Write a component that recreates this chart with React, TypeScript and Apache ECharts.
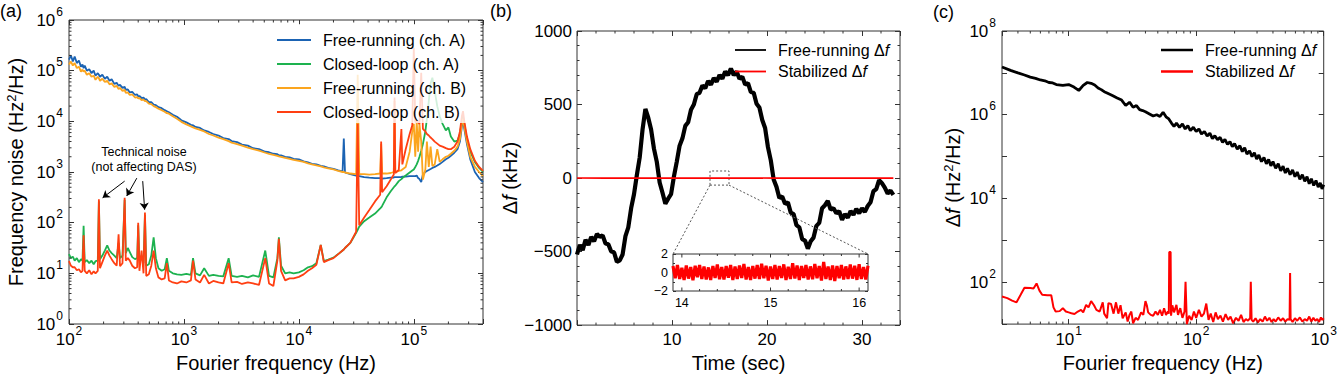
import { useEffect, useRef } from 'react';
import * as echarts from 'echarts';

const FONT = "'Liberation Sans', Arial, Helvetica, sans-serif";
const AX = '#333';

// ---------------- Panel (a): frequency noise PSD ----------------
const freqA = [100,104,108,112,117,122,127,131,134,137,143,150,157,164,170,178,182,186,195,205,215,225,235,248,260,270,278,292,305,312,325,338,355,375,392,400,410,428,445,458,470,495,520,545,570,600,640,680,710,740,800,870,950,1050,1150,1200,1260,1380,1500,1650,1800,2000,2200,2450,2600,2900,3200,3600,4000,4500,5100,5500,6000,6500,6700,7000,7600,8300,9000,10000,11000,12000,13000,14200,15500,16500,18000,20000,22000,24000,24600,25200,28000,31500,32500,33500,37000,41000,46000,51000,52000,53000,58000,63000,67000,68000,69000,74000,78000,79500,85000,92000,97000,100000,103000,106000,109000,112000,116000,120000,126000,130000,135000,140000,145000,152000,160000,168000,178000,190000,200000,210000,225000,240000,252000,262000,268000,275000,290000,310000,340000,370000,400000];
// values are log10 of the PSD (Hz^2/Hz)
const freeA_log10 = [5.22,5.30,5.18,5.28,5.15,5.20,5.08,5.12,5.05,5.10,5.00,5.03,4.95,5.00,4.90,4.95,4.92,4.88,4.92,4.84,4.88,4.80,4.83,4.74,4.76,4.70,4.72,4.66,4.68,4.62,4.63,4.57,4.58,4.52,4.53,4.49,4.50,4.46,4.47,4.43,4.44,4.38,4.38,4.33,4.32,4.28,4.26,4.22,4.20,4.18,4.13,4.09,4.02,3.98,3.93,3.92,3.89,3.87,3.82,3.79,3.75,3.72,3.67,3.65,3.61,3.59,3.54,3.52,3.47,3.45,3.40,3.39,3.36,3.35,3.33,3.33,3.30,3.29,3.26,3.25,3.21,3.19,3.16,3.15,3.12,3.11,3.08,3.06,3.03,3.01,3.66,2.99,2.96,2.93,2.92,2.92,2.90,2.89,2.88,2.88,2.88,2.87,2.88,2.89,2.89,2.90,2.90,2.90,2.90,2.91,2.91,2.92,2.92,2.92,2.92,2.93,2.88,2.86,2.80,2.95,3.00,3.02,3.04,3.06,3.08,3.10,3.13,3.16,3.20,3.25,3.28,3.32,3.38,3.45,3.60,3.90,4.00,3.85,3.55,3.25,3.00,2.88,2.80];
const closedA_log10 = [1.38,1.30,1.33,1.25,1.30,1.22,1.28,1.25,1.94,1.22,1.26,1.20,1.25,1.18,1.24,1.25,2.42,1.28,1.35,1.45,1.55,1.45,1.40,1.35,1.30,1.60,1.30,1.35,2.45,1.40,1.50,1.42,1.32,1.28,1.30,1.95,1.25,1.35,1.20,2.15,1.15,1.18,1.35,1.71,1.30,1.10,1.05,1.08,1.30,1.05,1.00,0.98,0.97,0.99,0.97,1.30,1.00,0.96,1.10,0.95,0.97,0.95,0.94,1.30,0.95,0.93,0.95,0.92,0.96,0.93,1.45,0.95,0.92,1.30,1.71,1.15,1.00,1.02,1.00,1.02,1.06,1.12,1.14,1.20,1.56,1.24,1.27,1.31,1.38,1.45,1.47,1.50,1.60,1.80,1.86,1.92,2.03,2.10,2.18,2.28,2.30,2.33,2.50,2.62,2.70,2.72,2.73,2.82,2.86,2.88,2.93,2.99,3.03,3.05,3.10,3.15,3.22,3.30,3.42,3.55,3.80,4.05,4.40,4.75,4.86,4.60,4.30,4.10,3.95,3.82,3.88,3.70,3.60,3.62,3.75,4.00,4.10,3.95,3.65,3.40,3.20,3.08,3.00];
const freeB_log10 = [5.12,5.18,5.10,5.15,5.05,5.08,4.98,5.02,4.98,5.00,4.92,4.95,4.88,4.90,4.82,4.88,4.85,4.80,4.84,4.78,4.80,4.73,4.75,4.68,4.70,4.64,4.66,4.60,4.62,4.56,4.57,4.52,4.53,4.47,4.48,4.45,4.46,4.42,4.43,4.40,4.40,4.35,4.34,4.30,4.28,4.25,4.22,4.19,4.16,4.15,4.10,4.05,3.99,3.94,3.90,3.88,3.86,3.83,3.80,3.75,3.72,3.68,3.65,3.61,3.58,3.55,3.52,3.48,3.45,3.42,3.38,3.36,3.34,3.32,3.31,3.30,3.28,3.26,3.24,3.22,3.20,3.17,3.15,3.13,3.11,3.09,3.07,3.05,3.02,3.00,3.00,2.99,2.97,2.96,4.92,2.96,2.96,2.95,2.96,2.97,3.55,2.97,2.97,2.98,3.00,4.40,3.00,3.02,3.03,3.05,3.10,3.40,3.80,3.95,3.30,4.00,3.40,3.95,3.60,2.85,3.05,3.60,3.10,3.50,3.12,3.15,3.45,3.20,3.25,3.30,3.32,3.36,3.42,3.50,3.65,3.95,4.05,3.90,3.60,3.30,3.10,3.00,2.92];
const closedB_log10 = [1.24,1.15,1.12,1.12,1.06,1.08,1.02,1.05,1.75,1.05,1.00,1.06,0.98,1.04,1.00,1.05,2.46,1.10,1.22,1.35,1.45,1.35,1.28,1.20,1.15,1.77,1.14,1.20,2.49,1.25,1.30,1.25,1.15,1.10,1.12,2.00,1.05,1.45,1.00,2.20,0.95,0.98,1.15,1.45,1.10,0.92,0.88,0.90,1.20,0.86,0.82,0.80,0.84,0.82,0.86,1.25,0.88,0.82,0.97,0.80,0.85,0.82,0.80,1.20,0.82,0.83,0.79,0.82,0.80,0.77,1.30,0.80,0.75,1.25,1.68,1.05,0.86,0.90,0.90,0.93,0.98,1.05,1.10,1.17,1.56,1.22,1.26,1.30,1.38,1.45,1.47,1.50,1.60,1.82,3.95,1.95,2.10,2.25,2.42,2.55,3.60,2.60,2.72,2.85,2.95,4.47,2.98,3.04,3.85,3.15,3.45,3.75,3.92,5.45,3.98,4.00,3.98,3.95,4.96,3.85,3.80,3.75,3.72,3.68,3.65,3.60,3.56,3.52,3.50,3.47,3.45,3.45,3.50,3.60,3.80,4.10,4.20,4.00,3.70,3.45,3.22,3.10,3.02];
const namesA = ['Free-running (ch. A)', 'Closed-loop (ch. A)', 'Free-running (ch. B)', 'Closed-loop (ch. B)'];
const colorsA = ['#1b63b3', '#1db24f', '#fba51e', '#ff3f12'];
// annotation arrows: [fromHz, fromPSD, toHz, toPSD]
const arrowsA = [[305, 661, 196, 309], [389, 757, 318, 337], [438, 661, 455, 180]];
const minorXA = [200,300,400,500,600,700,800,900,2000,3000,4000,5000,6000,7000,8000,9000,20000,30000,40000,50000,60000,70000,80000,90000,200000,300000];
const minorYA = [2,3,4,5,6,7,8,9,20,30,40,50,60,70,80,90,200,300,400,500,600,700,800,900,2000,3000,4000,5000,6000,7000,8000,9000,20000,30000,40000,50000,60000,70000,80000,90000,200000,300000,400000,500000,600000,700000,800000,900000];

// ---------------- Panel (b): time trace ----------------
const timeB = [0.0,0.3,0.6,0.9,1.2,1.5,1.8,2.1,2.4,2.7,3.0,3.3,3.6,3.9,4.2,4.5,4.8,5.1,5.4,5.7,6.0,6.3,6.6,6.9,7.2,7.5,7.8,8.1,8.4,8.7,9.0,9.3,9.6,9.9,10.2,10.5,10.8,11.1,11.4,11.7,12.0,12.3,12.6,12.9,13.2,13.5,13.8,14.1,14.4,14.7,15.0,15.3,15.6,15.9,16.2,16.5,16.8,17.1,17.4,17.7,18.0,18.3,18.6,18.9,19.2,19.5,19.8,20.1,20.4,20.7,21.0,21.3,21.6,21.9,22.2,22.5,22.8,23.1,23.4,23.7,24.0,24.3,24.6,24.9,25.2,25.5,25.8,26.1,26.4,26.7,27.0,27.3,27.6,27.9,28.2,28.5,28.8,29.1,29.4,29.7,30.0,30.3,30.6,30.9,31.2,31.5,31.8,32.1,32.4,32.7,33.0,33.3];
const freeDf = [-520,-455,-490,-420,-455,-400,-430,-380,-400,-390,-445,-450,-500,-505,-570,-560,-520,-395,-335,-205,-110,20,140,330,470,410,330,200,110,-30,-100,-175,-140,-110,10,110,220,270,355,380,465,500,570,580,630,610,660,635,680,655,700,675,725,700,745,700,725,675,690,635,645,585,580,505,480,395,340,210,120,-10,-60,-135,-125,-175,-165,-235,-245,-320,-335,-415,-425,-480,-430,-405,-325,-305,-205,-185,-155,-215,-205,-240,-225,-285,-245,-270,-225,-250,-210,-240,-205,-230,-190,-165,-90,-75,-15,-35,-65,-105,-85,-115];
const stabTime = [0, 3, 6, 9, 12, 15, 18, 21, 24, 27, 30, 33.3];
const stabDf = [0.4, -0.3, 0.5, -0.2, 0.3, -0.4, 0.2, -0.5, 0.3, -0.2, 0.4, -0.3];
const insetTime = [13.900,13.925,13.950,13.975,14.000,14.025,14.050,14.075,14.100,14.125,14.150,14.175,14.200,14.225,14.250,14.275,14.300,14.325,14.350,14.375,14.400,14.425,14.450,14.475,14.500,14.525,14.550,14.575,14.600,14.625,14.650,14.675,14.700,14.725,14.750,14.775,14.800,14.825,14.850,14.875,14.900,14.925,14.950,14.975,15.000,15.025,15.050,15.075,15.100,15.125,15.150,15.175,15.200,15.225,15.250,15.275,15.300,15.325,15.350,15.375,15.400,15.425,15.450,15.475,15.500,15.525,15.550,15.575,15.600,15.625,15.650,15.675,15.700,15.725,15.750,15.775,15.800,15.825,15.850,15.875,15.900,15.925,15.950,15.975,16.000,16.025,16.050,16.075,16.100];
const insetDf = [0.70,-0.62,0.80,-0.70,0.52,-0.82,0.75,-0.66,0.60,-0.85,0.72,-0.50,0.82,-0.70,0.65,-0.76,0.55,-0.80,0.70,-0.60,0.86,-0.72,0.60,-0.75,0.70,-0.56,0.80,-0.82,0.65,-0.70,0.75,-0.60,0.92,-0.75,0.60,-0.80,0.70,-0.66,0.82,-0.70,0.95,-0.62,0.72,-0.86,0.65,-0.70,0.80,-0.76,0.70,-0.60,0.88,-0.80,0.62,-0.70,1.00,-0.66,0.75,-0.82,0.70,-0.60,0.82,-0.75,0.66,-0.72,0.92,-0.62,0.70,-0.86,1.15,-0.70,0.65,-0.80,0.76,-0.92,0.70,-0.62,0.82,-0.75,0.66,-0.70,0.86,-0.66,0.72,-0.80,0.90,-0.70,0.60,-0.76,0.72];
const zoomT = [14, 16];
const zoomV = [-48, 48];
const minorXB = [2,4,6,8,12,14,16,18,22,24,26,28,32];
const insetMajorX = [14, 15, 16];
const insetMinorX = [14.2,14.4,14.6,14.8,15.2,15.4,15.6,15.8];

// ---------------- Panel (c): PSD of Δf ----------------
const freqC = [3,3.5,4,4.5,5,5.5,6,6.5,7,7.5,8,9,10,11,12,13,14,15,16,17,18,19,20,22,24,26,28,30,32,34,36,38,40,43,46,49,52,55,58,61,64,67,70,74,78,82,86,90,95,100,105,110,116,122,128,134,140,147,154,161,168,176,184,192,200,210,220,230,240,250,262,274,286,298,310,325,340,355,370,385,400,420,440,460,480,500,520,545,570,595,620,650,680,710,740,770,800,835,870,905,940,970,1000];
const freePSD_log10 = [7.14,7.06,7.00,6.95,6.90,6.87,6.83,6.81,6.77,6.76,6.72,6.70,6.72,6.66,6.58,6.70,6.77,6.75,6.71,6.64,6.60,6.55,6.52,6.46,6.40,6.35,6.22,6.30,6.18,6.22,6.12,6.10,6.07,6.02,5.97,6.00,5.96,6.06,5.95,5.90,5.80,5.72,5.80,5.70,5.78,5.66,5.74,5.62,5.70,5.60,5.66,5.54,5.60,5.49,5.56,5.43,5.50,5.40,5.46,5.34,5.41,5.29,5.36,5.24,5.31,5.18,5.26,5.12,5.21,5.06,5.14,5.00,5.09,4.94,5.04,4.88,4.98,4.83,4.93,4.78,4.88,4.72,4.83,4.66,4.77,4.61,4.72,4.57,4.68,4.52,4.63,4.46,4.57,4.41,4.52,4.35,4.47,4.31,4.43,4.27,4.37,4.23,4.33];
const stabFreqC = [3.0,3.3,3.6,3.9,4.2,4.5,5.0,5.3,5.6,5.9,6.2,6.8,7.3,7.6,7.9,8.5,9.0,9.5,10.0,10.5,11.1,11.8,12.5,13.0,13.7,14.3,15.0,15.8,16.5,17.5,18.5,19.0,20.0,20.5,21.5,22.5,23.5,24.5,25.5,26.5,28,29,30,31,32,33.5,35,37,38.5,40,41,42,44,46,48,50,52,54,56,58,60,61,61.5,63,63.5,65,67,70,72,75,78,81,82.5,83.5,84.5,88,92,96,100,105,110,115,120,125,130,136,142,148,155,162,170,178,186,195,205,215,225,235,245,255,265,268,272,280,292,305,318,332,346,360,375,390,405,420,440,460,480,500,520,540,545,550,570,595,620,650,680,710,740,770,800,830,860,890,920,950,975,1000];
const stabPSD_log10 = [1.66,1.62,1.56,1.52,1.70,1.87,1.86,1.85,1.97,1.80,1.70,1.69,1.69,1.40,1.30,1.31,1.38,1.30,1.28,1.26,1.24,1.30,1.34,1.28,1.46,1.40,1.55,1.45,1.34,1.30,1.52,1.25,1.14,1.50,1.48,1.25,1.52,1.25,1.45,1.14,1.28,1.06,1.22,1.30,1.02,1.15,1.10,1.28,1.22,1.55,1.45,1.28,1.22,1.20,1.30,1.22,1.34,1.20,1.38,1.22,1.30,1.25,2.72,2.72,1.20,1.45,1.28,1.46,1.22,1.38,1.15,1.30,2.01,2.01,1.00,1.20,1.10,1.30,1.15,1.34,1.18,1.25,1.49,1.10,1.25,1.05,1.28,1.12,1.20,1.06,1.24,1.10,1.18,1.02,1.15,1.08,1.22,1.05,1.12,1.08,1.15,2.01,1.10,1.06,1.14,1.04,1.12,1.06,1.18,1.08,1.15,1.05,1.12,1.06,1.16,1.08,1.14,1.06,1.12,1.10,2.22,1.12,1.05,1.14,1.08,1.16,1.06,1.12,1.08,1.18,1.06,1.15,1.08,1.12,1.05,1.16,1.10,1.14];
const minorXC = [4,5,6,7,8,9,20,30,40,50,60,70,80,90,200,300,400,500,600,700,800,900];

// ---------------- helpers ----------------
const pow = (arr: number[]) => arr.map((e) => Math.pow(10, e));
const pairs = (xs: number[], ys: number[]) => xs.map((x, i) => [x, ys[i]]);

function supLabel(v: number) {
  const l = Math.log10(v);
  const e = Math.round(l);
  if (Math.abs(l - e) > 1e-6) return '';
  return `{b|10}{s|${e}}`;
}
function supLabelEven(v: number) {
  const l = Math.log10(v);
  const e = Math.round(l);
  if (Math.abs(l - e) > 1e-6 || e % 2 !== 0 || e < 2) return '';
  return `{b|10}{s|${e}}`;
}
const minus = (v: number) => String(v).replace('-', '\u2212');

const richSup = {
  b: { fontSize: 17, fontFamily: FONT, color: '#000', verticalAlign: 'bottom' },
  s: { fontSize: 12, fontFamily: FONT, color: '#000', verticalAlign: 'top', padding: [0, 0, 11, 1] },
};
const nameRich = {
  s: { fontSize: 13, fontFamily: FONT, color: '#000', verticalAlign: 'top', padding: [0, 0, 9, 0] },
  i: { fontSize: 20, fontFamily: FONT, color: '#000', fontStyle: 'italic' },
};
const tick = (len: number, show = true) => ({ show, inside: true, length: len, lineStyle: { color: AX, width: 1 } });
const nameStyle = { fontSize: 20, fontFamily: FONT, color: '#000', rich: nameRich };

function tickSeries(xi: number, yi: number, dir: 'x' | 'y', vals: number[], ref: number, len: number) {
  return {
    type: 'custom',
    xAxisIndex: xi,
    yAxisIndex: yi,
    silent: true,
    z: 5,
    data: vals.map((v) => (dir === 'x' ? [v, ref] : [ref, v])),
    renderItem: (params: any, api: any) => {
      const cs = params.coordSys;
      const st = { stroke: AX, lineWidth: 1 };
      if (dir === 'x') {
        const px = api.coord([api.value(0), ref])[0];
        const b = cs.y + cs.height;
        return {
          type: 'group',
          children: [
            { type: 'line', shape: { x1: px, y1: b, x2: px, y2: b - len }, style: st },
            { type: 'line', shape: { x1: px, y1: cs.y, x2: px, y2: cs.y + len }, style: st },
          ],
        };
      }
      const py = api.coord([ref, api.value(1)])[1];
      const r = cs.x + cs.width;
      return {
        type: 'group',
        children: [
          { type: 'line', shape: { x1: cs.x, y1: py, x2: cs.x + len, y2: py }, style: st },
          { type: 'line', shape: { x1: r, y1: py, x2: r - len, y2: py }, style: st },
        ],
      };
    },
  };
}

function lineSeries(name: string, xi: number, yi: number, data: number[][], color: string, width: number, extra: any = {}) {
  return {
    type: 'line', name, xAxisIndex: xi, yAxisIndex: yi, data,
    symbol: 'none', showSymbol: false, silent: true, clip: true,
    lineStyle: { color, width }, itemStyle: { color },
    emphasis: { disabled: true },
    ...extra,
  };
}

function buildOption(): any {
  const gridStyle = { show: true, borderColor: AX, borderWidth: 1, backgroundColor: '#fff', containLabel: false };
  const grids = [
    { left: 69, top: 20, width: 414, height: 308, ...gridStyle },
    { left: 577, top: 31, width: 323, height: 295, ...gridStyle },
    { left: 673, top: 254, width: 195, height: 37, ...gridStyle },
    { left: 1002, top: 31, width: 325, height: 295, ...gridStyle },
  ];
  const base = { axisLine: { show: false, onZero: false }, splitLine: { show: false } };
  const mirror = (o: any) => ({ ...base, ...o, axisLabel: { show: false }, name: '' });

  const xAxis = [
    { ...base, type: 'log', gridIndex: 0, min: 100, max: 400000, position: 'bottom', axisTick: tick(5),
      axisLabel: { formatter: supLabel, margin: 1, rich: richSup },
      name: 'Fourier frequency (Hz)', nameLocation: 'middle', nameGap: 29, nameTextStyle: nameStyle },
    mirror({ type: 'log', gridIndex: 0, min: 100, max: 400000, position: 'top', axisTick: tick(5) }),
    { ...base, type: 'value', gridIndex: 1, min: 0, max: 34, interval: 10, position: 'bottom', axisTick: tick(5),
      axisLabel: { formatter: (v: number) => (v > 0 && v < 34 && v % 10 === 0 ? String(v) : ''), margin: 6, fontSize: 17, color: '#000', fontFamily: FONT },
      name: 'Time (sec)', nameLocation: 'middle', nameGap: 26, nameTextStyle: nameStyle },
    mirror({ type: 'value', gridIndex: 1, min: 0, max: 34, interval: 10, position: 'top', axisTick: tick(5) }),
    { ...base, type: 'value', gridIndex: 2, min: 13.9, max: 16.1, splitNumber: 2, position: 'bottom', axisTick: tick(3, false),
      axisLabel: { formatter: (v: number) => (Math.abs(v - Math.round(v)) < 1e-6 ? String(Math.round(v)) : ''), margin: 5, fontSize: 12.5, color: '#000', fontFamily: FONT } },
    mirror({ type: 'value', gridIndex: 2, min: 13.9, max: 16.1, splitNumber: 2, position: 'top', axisTick: tick(3, false) }),
    { ...base, type: 'log', gridIndex: 3, min: 3, max: 1000, position: 'bottom', axisTick: tick(5),
      axisLabel: { formatter: supLabel, margin: 1, rich: richSup },
      name: 'Fourier frequency (Hz)', nameLocation: 'middle', nameGap: 27, nameTextStyle: nameStyle },
    mirror({ type: 'log', gridIndex: 3, min: 3, max: 1000, position: 'top', axisTick: tick(5) }),
  ];
  const yAxis = [
    { ...base, type: 'log', gridIndex: 0, min: 1, max: 1000000, position: 'left', axisTick: tick(5),
      axisLabel: { formatter: supLabel, margin: 6, rich: richSup, padding: [0, 0, 6, 0] },
      name: 'Frequency noise (Hz{s|2}/Hz)', nameLocation: 'middle', nameGap: 42, nameTextStyle: nameStyle },
    mirror({ type: 'log', gridIndex: 0, min: 1, max: 1000000, position: 'right', axisTick: tick(5) }),
    { ...base, type: 'value', gridIndex: 1, min: -1000, max: 1000, interval: 500, position: 'left', axisTick: tick(5),
      minorTick: { show: true, splitNumber: 5, length: 2.5, lineStyle: { color: AX } },
      axisLabel: { formatter: minus, margin: 5, fontSize: 17, color: '#000', fontFamily: FONT },
      name: 'Δ{i|f} (kHz)', nameLocation: 'middle', nameGap: 46, nameTextStyle: nameStyle },
    mirror({ type: 'value', gridIndex: 1, min: -1000, max: 1000, interval: 500, position: 'right', axisTick: tick(5),
      minorTick: { show: true, splitNumber: 5, length: 2.5, lineStyle: { color: AX } } }),
    { ...base, type: 'value', gridIndex: 2, min: -2, max: 2, interval: 2, position: 'left', axisTick: tick(3),
      minorTick: { show: true, splitNumber: 2, length: 2, lineStyle: { color: AX } },
      axisLabel: { formatter: minus, margin: 5, fontSize: 12.5, color: '#000', fontFamily: FONT } },
    mirror({ type: 'value', gridIndex: 2, min: -2, max: 2, interval: 2, position: 'right', axisTick: tick(3),
      minorTick: { show: true, splitNumber: 2, length: 2, lineStyle: { color: AX } } }),
    { ...base, type: 'log', gridIndex: 3, min: 10, max: 100000000, position: 'left', axisTick: tick(5),
      axisLabel: { formatter: supLabelEven, margin: 6, rich: richSup, padding: [0, 0, 6, 0] },
      name: 'Δ{i|f} (Hz{s|2}/Hz)', nameLocation: 'middle', nameGap: 38, nameTextStyle: nameStyle },
    mirror({ type: 'log', gridIndex: 3, min: 10, max: 100000000, position: 'right', axisTick: tick(5) }),
  ];

  const aData = [freeA_log10, closedA_log10, freeB_log10, closedB_log10].map((arr) => pairs(freqA, pow(arr)));
  const series: any[] = [
    lineSeries(namesA[0], 0, 0, aData[0], colorsA[0], 1.8),
    lineSeries(namesA[1], 0, 0, aData[1], colorsA[1], 1.8),
    lineSeries(namesA[2], 0, 0, aData[2], colorsA[2], 1.8),
    lineSeries(namesA[3], 0, 0, aData[3], colorsA[3], 1.8, {
      markLine: {
        silent: true, symbol: ['none', 'arrow'], symbolSize: 7, label: { show: false },
        lineStyle: { color: '#000', width: 1, type: 'solid' }, emphasis: { disabled: true },
        data: arrowsA.map((a) => [{ coord: [a[0], a[1]] }, { coord: [a[2], a[3]] }]),
      },
    }),
    lineSeries('Free-running Δf', 2, 2, pairs(timeB, freeDf), '#000', 4.2, {
      markArea: {
        silent: true,
        itemStyle: { color: 'rgba(0,0,0,0)', borderColor: '#555', borderWidth: 1, borderType: [2, 2] },
        data: [[{ coord: [zoomT[0], zoomV[0]] }, { coord: [zoomT[1], zoomV[1]] }]],
      },
    }),
    lineSeries('Stabilized Δf', 2, 2, pairs(stabTime, stabDf), '#ff0000', 1.6),
    lineSeries('Stabilized Δf (zoom)', 4, 4, pairs(insetTime, insetDf), '#ff0000', 3.2),
    lineSeries('Free-running Δf', 6, 6, pairs(freqC, pow(freePSD_log10)), '#000', 2.8),
    lineSeries('Stabilized Δf', 6, 6, pairs(stabFreqC, pow(stabPSD_log10)), '#ff0000', 2),
    tickSeries(0, 0, 'x', minorXA, 1, 2.5),
    tickSeries(0, 0, 'y', minorYA, 100, 2.5),
    tickSeries(2, 2, 'x', minorXB, 0, 2.5),
    tickSeries(4, 4, 'x', insetMajorX, 0, 3.5),
    tickSeries(4, 4, 'x', insetMinorX, 0, 2),
    tickSeries(6, 6, 'x', minorXC, 10, 2.5),
  ];

  const legText = { fontSize: 16, fontFamily: FONT, color: '#000', padding: [0, 0, 0, 7],
    rich: { i: { fontSize: 16, fontFamily: FONT, color: '#000', fontStyle: 'italic' } } };
  const dfFmt = (n: string) => n.replace('Δf', 'Δ{i|f}');
  const legend = [
    { data: namesA, orient: 'vertical', left: 270, top: 24, padding: [8, 4, 3, 7], itemGap: 8, itemWidth: 34, itemHeight: 2.2,
      icon: 'rect', backgroundColor: 'rgba(255,255,255,0.8)', textStyle: legText, selectedMode: false },
    { data: ['Free-running Δf', 'Stabilized Δf'], orient: 'vertical', left: 735, top: 42, padding: 0, itemGap: 5.5, itemWidth: 31, itemHeight: 1.8,
      icon: 'rect', textStyle: legText, formatter: dfFmt, selectedMode: false },
    { data: ['Free-running Δf', 'Stabilized Δf'], orient: 'vertical', left: 1161, top: 42, padding: 0, itemGap: 5.5, itemWidth: 32, itemHeight: 2.5,
      icon: 'rect', textStyle: legText, formatter: dfFmt, selectedMode: false },
  ];

  return {
    animation: false,
    backgroundColor: '#fff',
    textStyle: { fontFamily: FONT },
    grid: grids,
    xAxis,
    yAxis,
    legend,
    series,
  };
}

export default function App() {
  const ref = useRef<HTMLDivElement>(null);
  useEffect(() => {
    document.body.style.margin = '0';
    const chart = echarts.init(ref.current as HTMLDivElement, null, { renderer: 'svg' });
    chart.setOption(buildOption());
    const rBL = chart.convertToPixel({ gridIndex: 1 }, [zoomT[0], zoomV[0]]) as number[];
    const rBR = chart.convertToPixel({ gridIndex: 1 }, [zoomT[1], zoomV[0]]) as number[];
    const iTL = chart.convertToPixel({ gridIndex: 2 }, [13.9, 2]) as number[];
    const iTR = chart.convertToPixel({ gridIndex: 2 }, [16.1, 2]) as number[];
    const txt = (id: string, text: string, x: number, y: number, size: number, align = 'left') => ({
      type: 'text', id, x, y, z: 20,
      style: { text, fontSize: size, fontFamily: FONT, fill: '#000', textAlign: align, textVerticalAlign: 'middle' },
    });
    const dash = { stroke: '#555', lineWidth: 1, lineDash: [2, 2] };
    chart.setOption({
      graphic: [
        txt('la', '(a)', 0, 11, 18),
        txt('lb', '(b)', 490, 11, 18),
        txt('lc', '(c)', 933, 12, 18),
        txt('t1', 'Technical noise', 144, 152, 12.5, 'center'),
        txt('t2', '(not affecting DAS)', 144, 167, 12.5, 'center'),
        { type: 'line', id: 'z1', z: 20, shape: { x1: rBL[0], y1: rBL[1], x2: iTL[0], y2: iTL[1] }, style: dash },
        { type: 'line', id: 'z2', z: 20, shape: { x1: rBR[0], y1: rBR[1], x2: iTR[0], y2: iTR[1] }, style: dash },
      ],
    });
    return () => chart.dispose();
  }, []);
  return <div ref={ref} style={{ width: 1340, height: 378 }} />;
}
